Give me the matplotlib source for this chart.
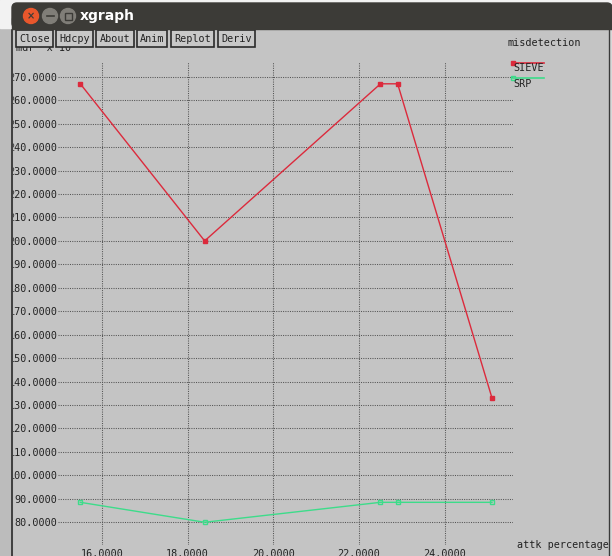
import matplotlib
matplotlib.use("Agg")
import matplotlib.pyplot as plt
import numpy as np
from matplotlib.patches import Rectangle, Circle, FancyBboxPatch

# data
attk = [15.5, 18.4, 22.5, 22.9, 25.1]
sieve = [267, 200, 267, 267, 133]
srp = [88.5, 80, 88.5, 88.5, 88.5]
xticks = [16, 18, 20, 22, 24]
yticks = list(range(80, 271, 10))
buttons = ["Close", "Hdcpy", "About", "Anim", "Replot", "Deriv"]

W, H = 612, 556
bg = "#c4c4c4"
mono = "DejaVu Sans Mono"
fs = 7.3

fig = plt.figure(figsize=(W / 100, H / 100), dpi=100, facecolor=bg)

# plot area in pixel coords
left, right, top, bottom = 58, 513, 62, 545
ax = fig.add_axes([left / W, 1 - bottom / H, (right - left) / W, (bottom - top) / H])
ax.set_facecolor("none")
for s in ax.spines.values():
    s.set_visible(False)
ax.set_xlim(14.98, 25.59)
ax.set_ylim(70.3, 276.3)
ax.set_xticks(xticks)
ax.set_yticks(yticks)
ax.set_xticklabels(["%.4f" % v for v in xticks], family=mono, fontsize=fs, color="#222")
ax.set_yticklabels(["%.4f" % v for v in yticks], family=mono, fontsize=fs, color="#222")
ax.tick_params(length=0, pad=0.3)
ax.tick_params(axis="x", pad=3)
ax.grid(True, color="#555555", linestyle=(0, (1, 1.2)), linewidth=0.75)

ax.plot(attk, sieve, color="#dc2a3c", lw=1.0, marker="s", ms=3, zorder=3)
ax.plot(attk, srp, color="#3ddc8a", lw=1.0, marker="s", ms=3.5, mfc="none", mew=1, zorder=3)

# window chrome drawn on top
ov = fig.add_axes([0, 0, 1, 1], zorder=10)
ov.set_xlim(0, W)
ov.set_ylim(H, 0)
ov.axis("off")
ov.patch.set_visible(False)

ov.text(16, 48, "mdr  x 10", family=mono, fontsize=fs, va="center", ha="left", color="#222", zorder=1)
ov.text(82, 44, "-3", family=mono, fontsize=6, va="center", ha="left", color="#222", zorder=1)

# left / right strips outside the window
ov.add_patch(Rectangle((0, 0), 11.5, H, color="#bcbcbc", zorder=5))
ov.plot([11.5, 11.5], [28, H], color="#2a2a2a", lw=1.2, zorder=6)
ov.add_patch(Rectangle((608.5, 0), 4, H, color="#d8d8d8", zorder=5))
ov.plot([608.5, 608.5], [28, H], color="#3a3a3a", lw=1.0, zorder=6)

# title bar
ov.add_patch(Rectangle((0, 0), W, 28, color="#f2f2f2", zorder=6))
ov.add_patch(FancyBboxPatch((12, 3), W - 12, 25, boxstyle="round,pad=0,rounding_size=5",
                            color="#3c3b37", zorder=7))
ov.add_patch(Rectangle((12, 18), W - 12, 10.5, color="#3c3b37", zorder=7))
ov.add_patch(Circle((31, 16), 7.5, color="#e9572c", zorder=8))
ov.text(31, 16, "\u00d7", color="#3c3b37", fontsize=7, ha="center", va="center", weight="bold", zorder=9)
ov.add_patch(Circle((50, 16), 7.5, color="#807e78", zorder=8))
ov.plot([46.5, 53.5], [16, 16], color="#3c3b37", lw=1.2, zorder=9)
ov.add_patch(Circle((68, 16), 7.5, color="#807e78", zorder=8))
ov.add_patch(Rectangle((64.5, 12.5), 7, 7, fill=False, ec="#3c3b37", lw=1, zorder=9))
ov.text(80, 16, "xgraph", color="white", fontsize=10, weight="bold", ha="left", va="center", zorder=9)

# buttons
bx = [(16, 53), (56, 93), (96, 134), (137, 167), (171, 214), (218, 255)]
for name, (x0, x1) in zip(buttons, bx):
    ov.add_patch(Rectangle((x0, 30), x1 - x0, 17, fc="#c8c8c8", ec="#2b2b2b", lw=1.2, zorder=4))
    ov.text((x0 + x1) / 2, 38.5, name, family=mono, fontsize=fs, ha="center", va="center",
            color="#222", zorder=5)

# legend and labels
ov.text(508, 42.5, "misdetection", family=mono, fontsize=fs, ha="left", va="center", color="#222")
ov.plot([513, 544], [63, 63], color="#dc2a3c", lw=1.2)
ov.plot([513], [63], "s", color="#dc2a3c", ms=3)
ov.text(513, 68, "SIEVE", family=mono, fontsize=fs, ha="left", va="center", color="#222")
ov.plot([513, 544], [78, 78], color="#3ddc8a", lw=1.2)
ov.plot([513], [78], "s", color="#3ddc8a", ms=3.5, mfc="none")
ov.text(513, 84, "SRP", family=mono, fontsize=fs, ha="left", va="center", color="#222")
ov.text(517, 545, "attk percentage", family=mono, fontsize=fs, ha="left", va="center", color="#222")

fig.savefig("out.png", dpi=100, facecolor=bg)
